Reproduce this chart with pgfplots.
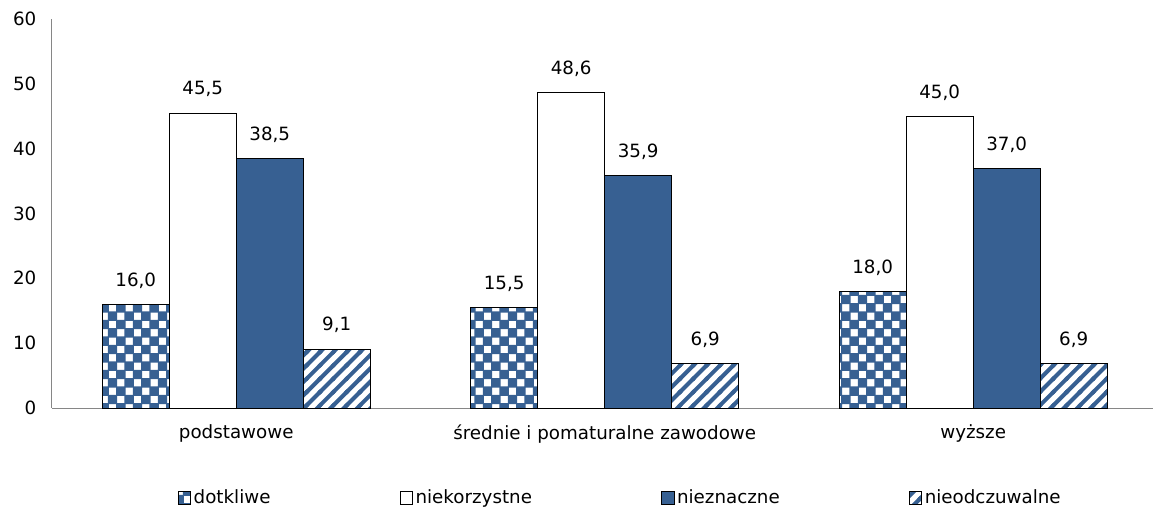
\documentclass[border=0pt]{standalone}
\usepackage{fontspec}
\setmainfont{DejaVu Sans}
\usepackage{pgfplots}
\pgfplotsset{compat=1.18}
\usetikzlibrary{patterns}
\definecolor{myblue}{RGB}{55,96,146}
\definecolor{axgray}{RGB}{134,134,134}
\pgfdeclarepatternformonly{checker}{\pgfqpoint{-0.5pt}{-0.5pt}}{\pgfqpoint{13pt}{13pt}}{\pgfqpoint{12.5pt}{12.5pt}}{%
  \pgfpathrectangle{\pgfqpoint{-0.4pt}{-0.4pt}}{\pgfqpoint{7.05pt}{7.05pt}}%
  \pgfpathrectangle{\pgfqpoint{5.85pt}{5.85pt}}{\pgfqpoint{7.05pt}{7.05pt}}%
  \pgfusepath{fill}}
\pgfdeclarepatternformonly{mystripes}{\pgfqpoint{-1pt}{-1pt}}{\pgfqpoint{11pt}{11pt}}{\pgfqpoint{10pt}{10pt}}{%
  \pgfsetlinewidth{3pt}%
  \pgfpathmoveto{\pgfqpoint{-1pt}{-1pt}}\pgfpathlineto{\pgfqpoint{11pt}{11pt}}%
  \pgfpathmoveto{\pgfqpoint{-1pt}{9pt}}\pgfpathlineto{\pgfqpoint{1pt}{11pt}}%
  \pgfpathmoveto{\pgfqpoint{9pt}{-1pt}}\pgfpathlineto{\pgfqpoint{11pt}{1pt}}%
  \pgfusepath{stroke}}
\begin{document}
\fontsize{13.7pt}{16pt}\selectfont
\begin{tikzpicture}
\begin{axis}[
  scale only axis, width=825.75pt, height=291.75pt,
  xmin=-0.5, xmax=2.488, ymin=0, ymax=60,
  ybar=0pt, bar width=50.25pt,
  axis lines=left, axis line style={-, draw=axgray, line width=0.75pt},
  ytick={0,10,...,60},
  xtick={0,1,2},
  xticklabels={podstawowe, {średnie i pomaturalne zawodowe}, wyższe},
  major tick length=0pt,
  /pgf/number format/assume math mode=true,
  yticklabel style={xshift=-7pt},
  xticklabel style={yshift=-8pt},
  nodes near coords={\pgfmathprintnumber[fixed,fixed zerofill,precision=1,use comma,assume math mode=true]{\pgfplotspointmeta}},
  every node near coord/.append style={yshift=7pt, text=black},
  clip=false,
  legend style={at={(0.5165,-0.231)}, anchor=center, draw=none, fill=none,
    legend columns=4, /tikz/every even column/.append style={column sep=95pt},
    nodes={inner xsep=2pt}},
  mylegend/.style={legend image code/.code={\draw[##1, line width=0.6pt] (0pt,-4.6pt) rectangle (9.2pt,4.6pt);}},
]
\addplot[draw=black, line width=0.75pt, pattern=checker, pattern color=myblue, mylegend] coordinates {(0,16.0) (1,15.5) (2,18.0)};
\addplot[draw=black, line width=0.75pt, fill=white, mylegend] coordinates {(0,45.5) (1,48.6) (2,45.0)};
\addplot[draw=black, line width=0.75pt, fill=myblue, mylegend] coordinates {(0,38.5) (1,35.9) (2,37.0)};
\addplot[draw=black, line width=0.75pt, pattern=mystripes, pattern color=myblue, mylegend] coordinates {(0,9.1) (1,6.9) (2,6.9)};
\legend{dotkliwe, niekorzystne, nieznaczne, nieodczuwalne}
\end{axis}
\pgfresetboundingbox
\path (-39pt,-78pt) rectangle (826.5pt,306pt);
\end{tikzpicture}
\end{document}
